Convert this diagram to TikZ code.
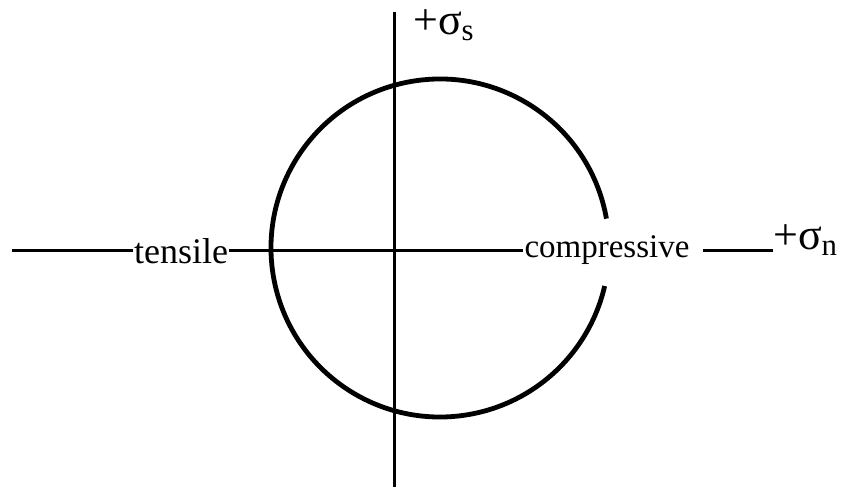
\documentclass[tikz,border=0pt]{standalone}
\usepackage{fontspec}
\setmainfont{Liberation Serif}
\usepackage{tikz}
\usetikzlibrary{positioning, calc}

\begin{document}
\begin{tikzpicture}[x=1pt, y=1pt,
    axisline/.style={line width=3pt},
    circline/.style={line width=4.8pt},
    lbl/.style={inner sep=1pt, font=\fontsize{33}{38}\selectfont},
    sigmalbl/.style={inner sep=0pt, font=\fontsize{44}{48}\selectfont}]
  \useasboundingbox (0,0) rectangle (841,487);
  % Mohr circle
  \coordinate (ctr) at (440,239);
  \draw[circline] ([shift={(10:169pt)}]ctr) arc[start angle=10, end angle=347, radius=169pt];
  % shear stress axis
  \coordinate (stop) at (394,475);
  \coordinate (sbot) at (394,0);
  \draw[axisline] (stop) -- (sbot);
  \node[sigmalbl, anchor=base west] (sigmas) at (413,452) {+σ\textsubscript{s}};
  % normal stress axis
  \coordinate (nleft) at (12,236);
  \node[lbl, font=\fontsize{36}{40}\selectfont] (tensile) at (181,236) {tensile};
  \node[lbl, anchor=base] (comp) at (607,229) {compressive};
  \coordinate (nseg) at (703,236);
  \node[sigmalbl, anchor=base west] (sigman) at (773,237) {+σ\textsubscript{n}};
  \draw[axisline] (nleft) -- (tensile.west);
  \draw[axisline] (tensile.east) -- (comp.west |- nleft);
  \draw[axisline] (nseg) -- (sigman.west |- nseg);
\end{tikzpicture}
\end{document}
